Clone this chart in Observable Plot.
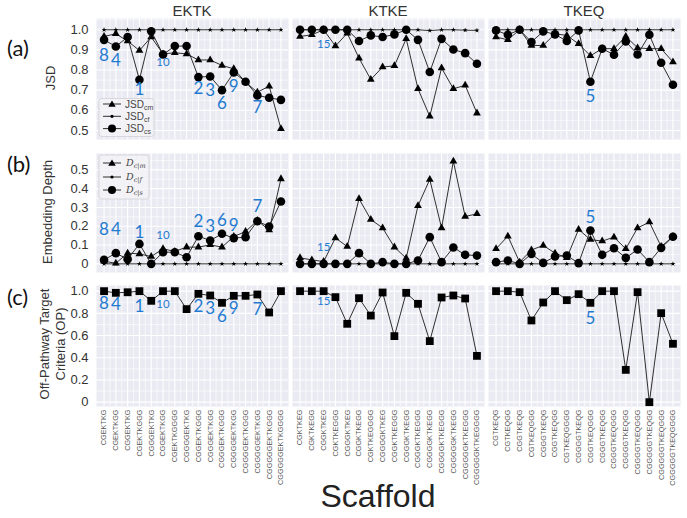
<!DOCTYPE html>
<html><head><meta charset="utf-8">
<script src="https://cdn.jsdelivr.net/npm/d3@7"></script>
<script src="https://cdn.jsdelivr.net/npm/@observablehq/plot@0.6"></script>
<style>
body{margin:0;background:#fff;}
#root{position:relative;width:687px;height:518px;overflow:hidden;font-family:"Liberation Sans",Arial,sans-serif;background:#fff;}
#root svg.plot{position:absolute;overflow:visible;}
</style></head><body><div id="root"></div>
<script>
const groups = ["EKTK", "KTKE", "TKEQ"];
const labelsEKTK = ["CGEKTKG","CGEKTKGG","CGGEKTKG","CGEKTKGGG","CGGGEKTKG","CGGEKTKGG","CGEKTKGGGG","CGGGGEKTKG","CGGEKTKGGG","CGGGEKTKGG","CGGGEKTKGGG","CGGGGEKTKGG","CGGGGEKTKGGG","CGGGGGEKTKGG","CGGGGGEKTKGGG","CGGGGGEKTKGGGG"];
const labelsKTKE = ["CGKTKEG","CGKTKEGG","CGGKTKEG","CGKTKEGGG","CGGGKTKEG","CGGKTKEGG","CGKTKEGGGG","CGGGGKTKEG","CGGKTKEGGG","CGGGKTKEGG","CGGGKTKEGGG","CGGGGKTKEGG","CGGGGKTKEGGG","CGGGGGKTKEGG","CGGGGGKTKEGGG","CGGGGGKTKEGGGG"];
const labelsTKEQ = ["CGTKEQG","CGTKEQGG","CGGTKEQG","CGTKEQGGG","CGGGTKEQG","CGGTKEQGG","CGTKEQGGGG","CGGGGTKEQG","CGGTKEQGGG","CGGGTKEQGG","CGGGTKEQGGG","CGGGGTKEQGG","CGGGGTKEQGGG","CGGGGGTKEQGG","CGGGGGTKEQGGG","CGGGGGTKEQGGGG"];

// (a) JSD
const jsdCmEKTK = [0.967,0.98,0.944,0.897,0.964,0.88,0.886,0.88,0.85,0.85,0.823,0.806,0.74,0.69,0.72,0.508];
const jsdCfEKTK = [1,1,1,1,1,1,1,1,1,1,1,1,1,1,1,1];
const jsdCsEKTK = [0.95,0.917,0.964,0.752,0.993,0.877,0.919,0.919,0.765,0.768,0.70,0.788,0.742,0.674,0.662,0.652];
const jsdCmKTKE = [0.967,0.975,1.0,0.919,0.983,0.859,0.753,0.815,0.821,0.955,0.707,0.57,0.81,0.707,0.724,0.586];
const jsdCfKTKE = [1,1,1,1,1,1,1,1,1,1,1,0.996,1,1,0.998,0.997];
const jsdCsKTKE = [1,1,1,1,1,0.944,0.972,0.964,0.977,1.0,0.95,0.79,0.955,0.902,0.884,0.831];
const jsdCmTKEQ = [0.964,0.95,1.0,0.922,0.922,0.98,0.972,0.93,0.871,0.906,0.906,0.967,0.91,0.906,0.906,0.84];
const jsdCfTKEQ = [1,1,1,1,1,1,1,1,1,1,1,1,1,1,1,1];
const jsdCsTKEQ = [0.997,0.975,1.0,0.939,0.992,0.977,0.944,0.997,0.742,0.906,0.876,0.942,0.877,0.975,0.836,0.727];

// (b) Embedding depth
const depCmEKTK = [0.014,0.003,0.057,0.053,0.039,0.08,0.066,0.089,0.089,0.101,0.089,0.145,0.172,0.23,0.18,0.452];
const depCfEKTK = [0,0,0,0,0,0,0,0,0,0,0,0,0,0,0,0];
const depCsEKTK = [0.021,0.057,0.025,0.106,0.0,0.062,0.062,0.035,0.147,0.124,0.16,0.137,0.142,0.227,0.199,0.332];
const depCmKTKE = [0.032,0.021,0.012,0.138,0.092,0.346,0.236,0.191,0.089,0.03,0.309,0.449,0.191,0.546,0.252,0.266];
const depCfKTKE = [0,0,0,0,0,0,0,0,0,0,0,0,0,0,0,0];
const depCsKTKE = [0,0,0,0,0,0.057,0,0.009,0,0,0.018,0.142,0.009,0.087,0.048,0.044];
const depCmTKEQ = [0.08,0.147,0.009,0.074,0.098,0.057,0.032,0.183,0.129,0.121,0.142,0.08,0.191,0.222,0.092,0.145];
const depCfTKEQ = [0,0,0,0,0,0,0,0,0,0,0,0,0,0,0,0];
const depCsTKEQ = [0.009,0.018,0,0.053,0.005,0.039,0.044,0.004,0.177,0.048,0.083,0.032,0.076,0.009,0.085,0.144];

// (c) Off-pathway target criteria
const opEKTK = [1.0,0.985,0.99,1.0,0.913,1.0,1.0,0.838,0.976,0.961,0.895,0.958,0.958,0.97,0.808,1.0];
const opKTKE = [1.0,1.0,1.0,0.946,0.706,0.937,0.78,0.988,0.595,0.985,0.886,0.55,0.943,0.961,0.934,0.417];
const opTKEQ = [1.0,1.0,0.991,0.736,0.898,1.0,0.919,0.973,0.895,1.0,1.0,0.291,0.991,0.0,0.802,0.526];

// blue scaffold annotations (label, category index, value on the panel's y axis)
const annA = [["EKTK",0,"8",0.873],["EKTK",1,"4",0.848],["EKTK",3,"1",0.703],["EKTK",5,"10",0.836],["EKTK",8,"2",0.707],["EKTK",9,"3",0.699],["EKTK",10,"6",0.636],["EKTK",11,"9",0.719],["EKTK",13,"7",0.616],["KTKE",2,"15",0.93],["TKEQ",8,"5",0.67]];
const annB = [["EKTK",0,"8",0.18],["EKTK",1,"4",0.18],["EKTK",3,"1",0.168],["EKTK",5,"10",0.154],["EKTK",8,"2",0.225],["EKTK",9,"3",0.199],["EKTK",10,"6",0.23],["EKTK",11,"9",0.204],["EKTK",13,"7",0.305],["KTKE",2,"15",0.089],["TKEQ",8,"5",0.245]];
const annC = [["EKTK",0,"8",0.886],["EKTK",1,"4",0.88],["EKTK",3,"1",0.862],["EKTK",5,"10",0.886],["EKTK",8,"2",0.862],["EKTK",9,"3",0.841],["EKTK",10,"6",0.775],["EKTK",11,"9",0.841],["EKTK",13,"7",0.832],["KTKE",2,"15",0.907],["TKEQ",8,"5",0.757]];

const ticksA = [0.5,0.6,0.7,0.8,0.9,1.0];
const ticksB = [0,0.1,0.2,0.3,0.4,0.5];
const ticksC = [0,0.2,0.4,0.6,0.8,1.0];

// ---------- build ----------
const tickLabels = {EKTK: labelsEKTK, KTKE: labelsKTKE, TKEQ: labelsTKEQ};
const seriesA = {
  EKTK: [jsdCmEKTK, jsdCfEKTK, jsdCsEKTK],
  KTKE: [jsdCmKTKE, jsdCfKTKE, jsdCsKTKE],
  TKEQ: [jsdCmTKEQ, jsdCfTKEQ, jsdCsTKEQ]};
const seriesB = {
  EKTK: [depCmEKTK, depCfEKTK, depCsEKTK],
  KTKE: [depCmKTKE, depCfKTKE, depCsKTKE],
  TKEQ: [depCmTKEQ, depCfTKEQ, depCsTKEQ]};
const seriesC = {EKTK: [opEKTK], KTKE: [opKTKE], TKEQ: [opTKEQ]};

const root = document.getElementById("root");
const PW = 192;
const colLeft = [96, 292, 488];
const fmt1 = d => d === 0 ? "0" : d3.format(".1f")(d);
const rows = [
  {key:"a", top:18, h:121, domain:[0.455,1.056], ticks:ticksA, series:seriesA, ann:annA,
   syms:[["triangle",2.9],["star",1.6],["circle",4.3]]},
  {key:"b", top:153, h:119, domain:[-0.046,0.587], ticks:ticksB, series:seriesB, ann:annB,
   syms:[["triangle",2.9],["star",1.6],["circle",4.3]]},
  {key:"c", top:285, h:121, domain:[-0.039,1.051], ticks:ticksC, series:seriesC, ann:annC,
   syms:[["square",4.4]]}
];

function minorOf(t) {
  const out = [];
  for (let k = 0; k < t.length - 1; k++) out.push((t[k] + t[k+1]) / 2);
  out.push(t[t.length-1] + (t[1]-t[0]) / 2);
  out.unshift(t[0] - (t[1]-t[0]) / 2);
  return out;
}
const xMajor = d3.range(16);
const xMinor = d3.range(15).map(i => i + 0.5);

rows.forEach((row, r) => {
  groups.forEach((g, c) => {
    const ml = c === 0 ? 96 : 0;
    const mb = row.key === "c" ? 80 : 0;
    const marks = [
      Plot.frame({fill: "#EAEAF2", stroke: null}),
      Plot.gridY(minorOf(row.ticks), {stroke: "#fff", strokeOpacity: 1, strokeWidth: 0.6}),
      Plot.gridY(row.ticks, {stroke: "#fff", strokeOpacity: 1, strokeWidth: 1.1}),
      Plot.gridX(xMinor, {stroke: "#fff", strokeOpacity: 1, strokeWidth: 0.6}),
      Plot.gridX(xMajor, {stroke: "#fff", strokeOpacity: 1, strokeWidth: 1.1})
    ];
    row.series[g].forEach((vals, s) => {
      const data = vals.map((v, i) => ({i, v}));
      const [sym, rr] = row.syms[s];
      marks.push(Plot.line(data, {x: "i", y: "v", stroke: "#1a1a1a", strokeWidth: 0.9}));
      marks.push(Plot.dot(data, {x: "i", y: "v", symbol: sym, r: rr, fill: "#000", stroke: null}));
    });
    const ann = row.ann.filter(d => d[0] === g).map(d => ({i: d[1], t: d[2], v: d[3]}));
    marks.push(Plot.text(ann.filter(d => d.t.length === 1), {x: "i", y: "v", text: "t", fill: "#1f7bd1", fontSize: 17, fontFamily: "Lato"}));
    marks.push(Plot.text(ann.filter(d => d.t.length > 1), {x: "i", y: "v", text: "t", fill: "#1f7bd1", fontSize: 11.5, fontFamily: "Lato"}));
    if (c === 0) {
      marks.push(Plot.axisY({ticks: row.ticks, tickFormat: fmt1, tickSize: 0, tickPadding: 8, fontSize: 13, color: "#333", label: null}));
    }
    if (row.key === "c") {
      const labs = tickLabels[g];
      marks.push(Plot.axisX({ticks: xMajor, tickFormat: i => labs[i], tickRotate: -90, tickSize: 0, tickPadding: 3, fontSize: 7.3, color: "#555", label: null}));
    }
    const svg = Plot.plot({
      width: ml + PW, height: row.h + mb,
      marginLeft: ml, marginRight: 0, marginTop: 0, marginBottom: mb,
      x: {domain: [-0.64, 15.64], axis: null},
      y: {domain: row.domain, axis: null},
      style: {background: "transparent", fontFamily: "Liberation Sans, Arial, sans-serif", overflow: "visible"},
      marks
    });
    svg.classList.add("plot");
    svg.style.left = (colLeft[c] - ml) + "px";
    svg.style.top = row.top + "px";
    root.appendChild(svg);
  });
});

// overlay: titles, labels, legends
const ov = `
<svg width="687" height="518" style="position:absolute;left:0;top:0;overflow:visible" font-family="Liberation Sans, Arial, sans-serif">
  <g font-size="15" fill="#333" text-anchor="middle">
    <text x="192" y="16">EKTK</text>
    <text x="388" y="16">KTKE</text>
    <text x="584" y="16">TKEQ</text>
  </g>
  <g font-family="Lato, sans-serif" font-size="22" fill="#111">
    <text x="7" y="56">(a)</text>
    <text x="7" y="172">(b)</text>
    <text x="7" y="305">(c)</text>
  </g>
  <g font-size="13" fill="#333" text-anchor="middle" dominant-baseline="central">
    <text transform="translate(50,78) rotate(-90)">JSD</text>
    <text transform="translate(47,212) rotate(-90)">Embedding Depth</text>
    <text transform="translate(44,344) rotate(-90)">Off-Pathway Target</text>
    <text transform="translate(60,344) rotate(-90)">Criteria (OP)</text>
  </g>
  <text x="378" y="507" font-size="32" fill="#222" text-anchor="middle">Scaffold</text>

  <g>
    <rect x="99" y="98.5" width="55" height="38" rx="3" fill="#F3F3F7" fill-opacity="0.85" stroke="#cfcfd6" stroke-width="0.8"/>
    <g stroke="#1a1a1a" stroke-width="0.9">
      <line x1="103" y1="104" x2="121" y2="104"/>
      <line x1="103" y1="116.3" x2="121" y2="116.3"/>
      <line x1="103" y1="128.6" x2="121" y2="128.6"/>
    </g>
    <path d="M112,100.6 L108.3,106.8 L115.7,106.8 Z" fill="#000"/>
    <circle cx="112" cy="116.3" r="1.6" fill="#000"/>
    <circle cx="112" cy="128.6" r="4" fill="#000"/>
    <g font-size="10" fill="#444">
      <text x="125" y="107.5">JSD<tspan font-size="7" dy="2">cm</tspan></text>
      <text x="125" y="119.8">JSD<tspan font-size="7" dy="2">cf</tspan></text>
      <text x="125" y="132">JSD<tspan font-size="7" dy="2">cs</tspan></text>
    </g>
  </g>
  <g>
    <rect x="99" y="155" width="50" height="44" rx="3" fill="#F3F3F7" fill-opacity="0.85" stroke="#cfcfd6" stroke-width="0.8"/>
    <g stroke="#1a1a1a" stroke-width="0.9">
      <line x1="103" y1="163" x2="121" y2="163"/>
      <line x1="103" y1="177" x2="121" y2="177"/>
      <line x1="103" y1="190" x2="121" y2="190"/>
    </g>
    <path d="M112,159.5 L108.2,165.8 L115.8,165.8 Z" fill="#000"/>
    <circle cx="112" cy="177" r="1.6" fill="#000"/>
    <circle cx="112" cy="190" r="4" fill="#000"/>
    <g font-size="9.5" fill="#444" font-family="DejaVu Serif, serif" font-style="italic">
      <text x="126" y="166">D<tspan font-size="6.5" dy="2">c|m</tspan></text>
      <text x="126" y="180">D<tspan font-size="6.5" dy="2">c|f</tspan></text>
      <text x="126" y="193">D<tspan font-size="6.5" dy="2">c|s</tspan></text>
    </g>
  </g>
</svg>`;
root.insertAdjacentHTML("beforeend", ov);
</script>
</body></html>
